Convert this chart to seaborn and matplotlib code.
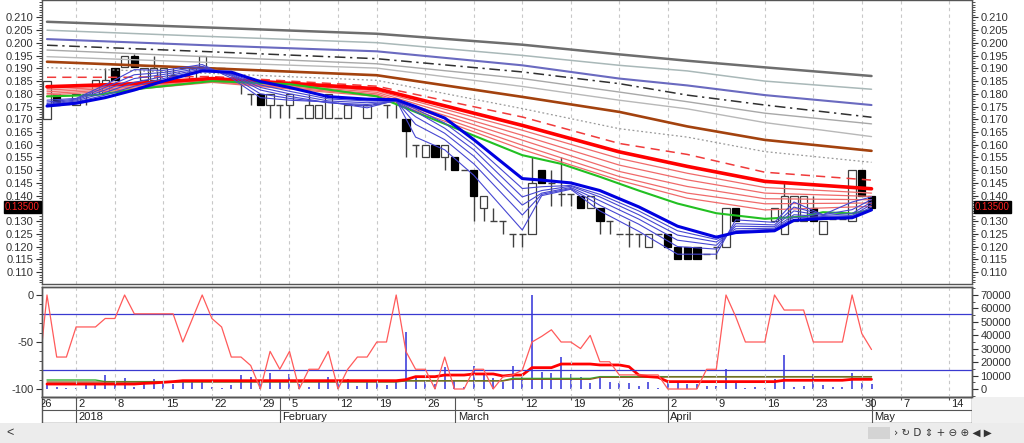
import numpy as np
import pandas as pd
import matplotlib
matplotlib.use("Agg")
import matplotlib.pyplot as plt
from matplotlib.patches import Rectangle
from matplotlib.ticker import MultipleLocator, FuncFormatter
import seaborn as sns

# daily bars, index 0 = 27 Dec 2017 (trading days only)
opens = [.170, .180, .176, .1755, .180, .180, .1805, .190, .1905, .195,
         .1855, .1855, .1855, .1875, .190, .1855, .190, .190, .190, .1885,
         .185, .180, .180, .1755, .1755, .1755, .1705, .1705, .1705, .1705,
         .1705, .1705, .1755, .1705, .176, .1755, .1775, .170, .160, .155,
         .160, .155, .155, .150, .150, .135, .130, .130, .125, .125,
         .125, .150, .145, .1405, .1405, .140, .135, .135, .130, .125,
         .125, .125, .120, .125, .125, .120, .120, .120, .117, .120,
         .120, .135, .126, .126, .126, .130, .125, .130, .130, .135,
         .125, .131, .131, .130, .150, .140]
closes = [.185, .1755, .176, .180, .180, .1855, .1855, .1855, .195, .1905,
          .190, .190, .190, .1875, .190, .190, .195, .190, .190, .1885,
          .185, .180, .1755, .180, .1755, .180, .1705, .1755, .1755, .180,
          .1705, .1755, .1755, .1755, .176, .1755, .1775, .1655, .160, .160,
          .155, .160, .150, .150, .140, .140, .130, .130, .125, .125,
          .145, .145, .145, .1405, .1405, .135, .140, .130, .130, .125,
          .125, .125, .125, .125, .120, .115, .115, .115, .117, .120,
          .135, .130, .126, .126, .126, .135, .140, .140, .140, .130,
          .130, .131, .131, .150, .140, .135]
highs = [.185, .180, .176, .180, .180, .1855, .190, .190, .195, .1955,
         .190, .195, .190, .190, .190, .190, .195, .190, .190, .1885,
         .185, .180, .180, .180, .1755, .180, .1705, .180, .1755, .180,
         .1705, .1755, .1755, .1755, .176, .1755, .1775, .170, .160, .160,
         .160, .160, .155, .150, .150, .140, .135, .130, .125, .125,
         .155, .150, .150, .155, .1405, .140, .140, .135, .130, .125,
         .130, .125, .125, .125, .125, .120, .120, .120, .117, .120,
         .135, .135, .126, .126, .126, .135, .145, .140, .140, .140,
         .130, .131, .131, .150, .150, .140]
lows = [.170, .1755, .176, .1755, .1755, .180, .1805, .1855, .1905, .1905,
        .1855, .1855, .1855, .1855, .190, .1855, .190, .190, .190, .1885,
        .180, .1755, .1755, .1705, .1705, .1705, .1705, .1705, .1705, .1705,
        .1705, .1705, .1755, .1705, .176, .1705, .1705, .155, .155, .155,
        .155, .150, .150, .150, .130, .130, .130, .125, .120, .120,
        .125, .145, .136, .136, .136, .135, .135, .125, .125, .125,
        .120, .120, .120, .125, .120, .115, .115, .115, .117, .115,
        .120, .130, .126, .126, .126, .130, .125, .130, .130, .130,
        .125, .131, .131, .130, .140, .135]
volume = [4200, 1200, 500, 1000, 3700, 3000, 10400, 3700, 7900, 1200,
          4200, 7200, 5500, 3700, 5500, 5500, 5500, 1200, 1000, 3000,
          10400, 9200, 6700, 11700, 6700, 11200, 3700, 1700, 5500, 9200,
          5500, 7200, 2200, 5500, 5500, 3000, 6700, 42700, 9200, 6700,
          3700, 16100, 6700, 1700, 17100, 10400, 7900, 5500, 17100, 9200,
          70000, 12900, 11700, 23600, 10900, 8700, 4200, 7900, 5500, 4200,
          4200, 2200, 5500, 500, 4200, 5500, 3700, 3700, 2200, 2200,
          14600, 5500, 1000, 1700, 800, 7200, 25300, 1700, 2200, 11200,
          3000, 1700, 1200, 11700, 4700, 3700]
vol_ma_red = [3700] * 10 + [4200, 4500, 5000, 5500] + [6200] * 23 + [7000, 9200, 9200, 9200,
              10400, 10400, 10400, 11200, 11200, 11200, 9700, 10400, 10400, 15900, 15900, 15900,
              18600, 18600, 18600, 18600, 17900, 17900, 17900, 16600, 10400, 9200, 8700] + \
             [5500] * 12 + [6500] * 7 + [7200] * 3
vol_ma_green = [6700] * 6 + [5500] * 31 + [6200] * 11 + [7900] * 9 + [9200] * 29
vol_ma_brown = [5200] * 37 + [6000] * 11 + [7200] * 9 + [8700] * 7 + [9000] * 22

# Williams %R, starting one day earlier (26 Dec)
willr = [-100, 0, -66, -66, -34, -34, -34, -25, -25, 0, -20,
         -20, -20, -20, -20, -50, -25, 0, -25, -34, -66,
         -66, -75, -100, -60, -79, -60, -100, -79, -79, -60,
         -100, -79, -66, -66, -50, -50, 0, -60, -79, -79,
         -100, -66, -100, -100, -79, -79, -100, -87, -85, -80,
         -50, -44, -37, -50, -50, -57, -43, -71, -71, -85,
         -85, -85, -85, -85, -100, -100, -100, -100, -79, -79,
         0, -23, -50, -50, -50, 0, -16, -16, -16, -50,
         -50, -50, -50, 0, -41, -58]

# long-term averages
long_idx = [0, 17, 34, 49, 59, 66, 74, 85]
ma_a = [.2083, .2060, .2036, .1993, .1955, .1930, .1904, .1870]
ma_b = [.2050, .2025, .2001, .1951, .1912, .1890, .1850, .1818]
ma_c = [.2015, .1990, .1967, .1912, .1860, .1833, .1795, .1756]
ma_d = [.1991, .1965, .1938, .1886, .1840, .1795, .1756, .1708]
ma_e = [.1972, .1945, .1918, .1860, .1807, .1769, .1724, .1682]
ma_f = [.1946, .1923, .1901, .1829, .1775, .1741, .1687, .1632]
ma_g = [.1926, .1900, .1873, .1788, .1729, .1672, .1619, .1576]
ma_h = [.1903, .1880, .1853, .1742, .1663, .1630, .1573, .1531]

# red group
red_idx = [0, 8, 17, 34, 49, 59, 66, 74, 85]
red_dash = [.1865, .1865, .1868, .1830, .1709, .1605, .1562, .1492, .1461]
red_thick = [.1828, .1838, .1860, .1820, .1676, .1572, .1515, .1456, .1427]
red_k1 = [.1822, .1834, .1857, .1812, .1657, .1546, .1488, .1432, .1410]
red_k2 = [.1815, .1829, .1854, .1806, .1637, .1520, .1462, .1410, .1397]
red_k3 = [.1808, .1824, .1851, .1800, .1618, .1495, .1436, .1388, .1384]
red_k4 = [.1801, .1819, .1848, .1795, .1598, .1475, .1410, .1368, .1371]
red_k5 = [.1795, .1814, .1845, .1790, .1581, .1460, .1390, .1344, .1358]

green_idx = [0, 5, 10, 17, 25, 34, 49, 53, 57, 61, 65, 69, 74, 78, 80, 83, 85]
green_val = [.1790, .1795, .1822, .1850, .1838, .1790, .1559, .1525, .1474, .1420,
             .1369, .1331, .1309, .1318, .1335, .1330, .1344]

# short-term blue group
blue_idx = [0, 3, 6, 9, 12, 16, 19, 22, 25, 29, 33, 36, 38, 41, 44, 49, 51, 54, 57, 61,
            65, 69, 71, 75, 77, 80, 83, 85]
blue_t = [.1752, .1763, .1785, .1815, .1850, .1890, .1885, .1848, .1825, .1789, .1779, .1777,
          .1750, .1705, .1620, .1467, .1461, .1450, .1420, .1356, .1280, .1237, .1255, .1262,
          .1303, .1310, .1313, .1344]
blue_l5 = [.1755, .1768, .1795, .1830, .1860, .1893, .1880, .1835, .1810, .1780, .1772, .1774,
           .1740, .1685, .1600, .1428, .1435, .1440, .1405, .1340, .1262, .1228, .1262, .1268,
           .1315, .1315, .1318, .1355]
blue_l4 = [.1758, .1772, .1805, .1845, .1868, .1897, .1877, .1825, .1800, .1772, .1765, .1772,
           .1730, .1665, .1580, .1395, .1420, .1437, .1395, .1325, .1245, .1218, .1270, .1272,
           .1325, .1318, .1322, .1365]
blue_l3 = [.1762, .1776, .1815, .1860, .1876, .1902, .1874, .1815, .1790, .1765, .1758, .1772,
           .1710, .1645, .1555, .1363, .1410, .1432, .1380, .1308, .1225, .1205, .1280, .1278,
           .1340, .1322, .1330, .1375]
blue_l2 = [.1768, .1779, .1825, .1875, .1884, .1908, .1870, .1800, .1782, .1766, .1752, .1772,
           .1680, .1620, .1525, .1324, .1405, .1428, .1362, .1288, .1200, .1190, .1290, .1285,
           .1355, .1325, .1345, .1385]
blue_l1 = [.1775, .1782, .1835, .1895, .1892, .1915, .1862, .1785, .1775, .1768, .1745, .1775,
           .1630, .1580, .1480, .1265, .1400, .1425, .1340, .1260, .1170, .1170, .1305, .1295,
           .1375, .1325, .1375, .1395]

day_ticks = [-1, 3, 7, 12, 17, 22, 25, 30, 34, 39, 44, 49, 54, 59, 64, 69, 74, 79, 84, 88, 93]
day_labels = ['26', '2', '8', '15', '22', '29', '5', '12', '19', '26', '5', '12', '19', '26',
              '2', '9', '16', '23', '30', '7', '14']
month_pos = [3, 24, 42.1, 64, 85]
month_labels = ['2018', 'February', 'March', 'April', 'May']
last_price = 0.135

sns.set_style("white")
plt.rcParams['font.family'] = ['Liberation Sans', 'DejaVu Sans']
plt.rcParams['font.size'] = 8
plt.rcParams['axes.unicode_minus'] = False

W, H = 1024, 443
fig = plt.figure(figsize=(W / 100, H / 100), dpi=100)
fig.patch.set_facecolor('white')
# toolbar strip at the bottom and grey corner
fig.patches.append(Rectangle((0, 0), 1, 20 / H, transform=fig.transFigure,
                             facecolor='#ececec', edgecolor='none', zorder=0))
fig.patches.append(Rectangle((972 / W, 20 / H), 52 / W, 26 / H, transform=fig.transFigure,
                             facecolor='#f0f0f0', edgecolor='none', zorder=0))
fig.patches.append(Rectangle((868 / W, 4 / H), 22 / W, 12 / H, transform=fig.transFigure,
                             facecolor='#d4d4d4', edgecolor='none', zorder=1))

x0, xw = 42 / W, 930 / W
ax = fig.add_axes([x0, 1 - 284 / H, xw, 284 / H])
ax2 = fig.add_axes([x0, 1 - 397 / H, xw, 110 / H])
ax3 = fig.add_axes([x0, 1 - 423 / H, xw, 26 / H])
xlim = (-0.515, 95.36)

# ---- main price panel
for t in day_ticks:
    ax.axvline(t, color='#c8c8c8', ls=(0, (3, 3)), lw=0.8, zorder=0)
    ax2.axvline(t, color='#c8c8c8', ls=(0, (3, 3)), lw=0.8, zorder=0)

idx = np.arange(len(closes))
o = np.array(opens)
c = np.array(closes)
ax.vlines(idx, lows, highs, color='#404040', lw=1.0, zorder=2)
up = c > o
down = c < o
flat = c == o
ax.bar(idx[up], (c - o)[up], bottom=o[up], width=0.75, color='white',
       edgecolor='#404040', lw=0.9, zorder=2)
ax.bar(idx[down], (o - c)[down], bottom=c[down], width=0.75, color='black',
       edgecolor='black', lw=0.9, zorder=2)
ax.hlines(c[flat], idx[flat] - 0.37, idx[flat] + 0.37, color='#404040', lw=1.0, zorder=2)

long_styles = [
    (ma_a, '#6e6e6e', 1.8, '-'),
    (ma_b, '#a9b8b8', 1.1, '-'),
    (ma_c, '#6a6ac0', 1.5, '-'),
    (ma_d, '#303030', 1.1, (0, (7, 3, 1.5, 3))),
    (ma_e, '#a8a8a8', 1.0, '-'),
    (ma_f, '#b8b8b8', 1.0, '-'),
    (ma_g, '#a3420e', 1.9, '-'),
    (ma_h, '#9a9a9a', 0.9, (0, (1.5, 2))),
]
for vals, col, lw, ls in long_styles:
    sns.lineplot(x=long_idx, y=vals, ax=ax, color=col, lw=lw, linestyle=ls,
                 estimator=None, zorder=3)

for vals in [red_k5, red_k4, red_k3, red_k2, red_k1]:
    sns.lineplot(x=red_idx, y=vals, ax=ax, color='#f06a6a', lw=0.9, estimator=None, zorder=3)
sns.lineplot(x=red_idx, y=red_dash, ax=ax, color='#f03a3a', lw=1.1, linestyle=(0, (6, 4)),
             estimator=None, zorder=3)
sns.lineplot(x=red_idx, y=red_thick, ax=ax, color='#ff0000', lw=2.6, estimator=None, zorder=3)
sns.lineplot(x=green_idx, y=green_val, ax=ax, color='#22c022', lw=1.5, estimator=None, zorder=4)

for vals in [blue_l1, blue_l2, blue_l3, blue_l4, blue_l5]:
    sns.lineplot(x=blue_idx, y=vals, ax=ax, color='#4646d2', lw=0.8, estimator=None, zorder=4)
sns.lineplot(x=blue_idx, y=blue_t, ax=ax, color='#0000e0', lw=2.2, estimator=None, zorder=5)


def price_fmt(v, pos):
    # the last-price marker sits on top of this level
    if abs(v - last_price) < 1e-6:
        return ''
    return '%.3f' % v


ax.set_xlim(*xlim)
ax.set_ylim(0.10529, 0.21686)
ax.set_yticks([v / 1000 for v in range(110, 211, 5)])
ax.yaxis.set_minor_locator(MultipleLocator(0.001))
ax.yaxis.set_major_formatter(FuncFormatter(price_fmt))
ax.tick_params(axis='y', which='both', left=True, right=True, labelleft=True, labelright=True,
               direction='out', colors='#333333', labelsize=8, pad=2)
ax.tick_params(axis='y', which='major', length=4, width=0.8)
ax.tick_params(axis='y', which='minor', length=2, width=0.6)
ax.set_xticks([])
ax.set_xlabel('')
ax.set_ylabel('')

# ---- lower panel: Williams %R and volume
axv = ax2.twinx()
axv.vlines(idx, 0, volume, color='#3030d8', lw=1.1)
sns.lineplot(x=idx, y=vol_ma_green, ax=axv, color='#30b030', lw=1.0, estimator=None)
sns.lineplot(x=idx, y=vol_ma_brown, ax=axv, color='#8a5a20', lw=0.9, estimator=None)
sns.lineplot(x=idx, y=vol_ma_red, ax=axv, color='#ff0000', lw=2.0, estimator=None)
axv.set_ylim(-5950, 75950)
axv.set_yticks(range(0, 70001, 10000))
axv.yaxis.set_minor_locator(MultipleLocator(5000))
axv.tick_params(axis='y', which='both', direction='out', colors='#333333', labelsize=8, pad=2)
axv.tick_params(axis='y', which='major', length=4)
axv.tick_params(axis='y', which='minor', length=2)
axv.set_ylabel('')

wr_idx = np.arange(-1, len(closes))
ax2.set_zorder(axv.get_zorder() + 1)
ax2.patch.set_visible(False)
ax2.axhline(-20, color='#3a3ad0', lw=0.9)
ax2.axhline(-80, color='#3a3ad0', lw=0.9)
sns.lineplot(x=wr_idx, y=willr, ax=ax2, color='#ff5a5a', lw=0.9, estimator=None)
ax2.set_xlim(*xlim)
ax2.set_ylim(-108.5, 8.5)
ax2.set_yticks([0, -50, -100])
ax2.yaxis.set_minor_locator(MultipleLocator(10))
ax2.tick_params(axis='y', which='both', direction='out', colors='#333333', labelsize=8, pad=2)
ax2.tick_params(axis='y', which='major', length=4)
ax2.tick_params(axis='y', which='minor', length=2)
ax2.set_xticks([])
ax2.set_ylabel('')

# ---- date strip
ax3.set_xlim(*xlim)
ax3.set_ylim(0, 2)
ax3.set_xticks([])
ax3.set_yticks([])
ax3.axhline(1, color='#555555', lw=0.8)
for t, lab in zip(day_ticks, day_labels):
    ax3.vlines(t, 1.75, 2, color='#555555', lw=0.8)
    ax3.text(t + 0.25, 1.48, lab, ha='left', va='center', fontsize=8, color='#222222',
             clip_on=True)
for m, lab in zip(month_pos, month_labels):
    ax3.vlines(m, 0, 2, color='#555555', lw=0.8)
    ax3.text(m + 0.25, 0.48, lab, ha='left', va='center', fontsize=8, color='#222222',
             clip_on=True)

for a in (ax, ax2, ax3, axv):
    for s in a.spines.values():
        s.set_color('#555555')
        s.set_linewidth(1.0)

# last price markers
for xf in (5 / W, 975 / W):
    fig.text(xf, 1 - 207 / H, '%.5f' % last_price, color='#ff2020', fontsize=7, ha='left',
             va='center',
             bbox=dict(boxstyle='square,pad=0.15', facecolor='black', edgecolor='black'))

# toolbar bits
fig.text(6 / W, 10 / H, '<', fontsize=9, color='#333333', va='center')
fig.text(894 / W, 10 / H, '› ↻ D ⇕ + ⊖ ⊕ ◀ ▶', fontsize=7.5, color='#333333',
         va='center', family='DejaVu Sans')

fig.savefig('out.png', dpi=100)
